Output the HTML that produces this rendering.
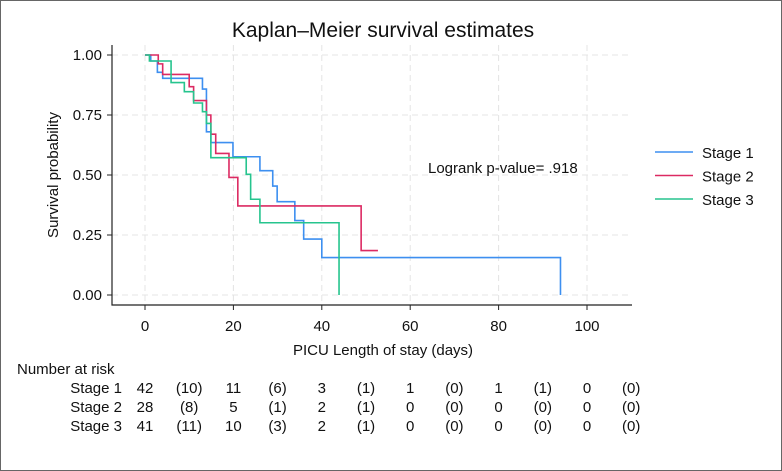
<!DOCTYPE html>
<html><head><meta charset="utf-8"><style>
body{margin:0;background:#fff}
svg{display:block;font-family:"Liberation Sans",Arial,sans-serif}
</style></head><body>
<svg width="782" height="471" viewBox="0 0 782 471">
<rect x="0.5" y="0.5" width="781" height="470" fill="#fff" stroke="#666"/>
<text x="383" y="37" font-size="21" text-anchor="middle" fill="#111">Kaplan–Meier survival estimates</text>
<g id="grid"></g><g id="axes"></g><g id="series"></g><g id="risk"></g>
<text x="383" y="355" font-size="15" text-anchor="middle" fill="#111">PICU Length of stay (days)</text>
<text transform="translate(58,175) rotate(-90)" font-size="15" text-anchor="middle" fill="#111">Survival probability</text>
<text x="428" y="173" font-size="15" fill="#111">Logrank p-value= .918</text>
<text x="17" y="374" font-size="15" fill="#111">Number at risk</text>
</svg>
<script>
const xTicks=[0,20,40,60,80,100];
const yTicks=[0,0.25,0.5,0.75,1];
const seriesNames=["Stage 1","Stage 2","Stage 3"];
const s1Times=[0,1.3,2.8,4,13,13.9,14.9,19.9,26,28.9,29.9,33.9,35.9,40,94];
const s1Surv=[1,0.975,0.928,0.903,0.858,0.68,0.635,0.576,0.518,0.454,0.389,0.31,0.233,0.156,0];
const s2Times=[0,3,4,10,11,13.9,14.9,16,19,21,48.9];
const s2Surv=[1,0.963,0.919,0.868,0.81,0.75,0.67,0.59,0.49,0.371,0.185];
const s2End=52.7;
const s3Times=[0,1,5.9,8.9,11,13,13.9,14.9,22.9,23.9,26,43.9];
const s3Surv=[1,0.975,0.885,0.847,0.8,0.764,0.715,0.572,0.503,0.399,0.301,0];
const riskTimes=[0,10,20,30,40,50,60,70,80,90,100];
const risk1=["42","(10)","11","(6)","3","(1)","1","(0)","1","(1)","0","(0)"];
const risk2=["28","(8)","5","(1)","2","(1)","0","(0)","0","(0)","0","(0)"];
const risk3=["41","(11)","10","(3)","2","(1)","0","(0)","0","(0)","0","(0)"];
const colors=["#3d8ff0","#dc2a62","#26c48e"];
const NS="http://www.w3.org/2000/svg";
const X=d=>145+d*4.42, Y=v=>295-v*240;
function mk(p,tag,a){const e=document.createElementNS(NS,tag);for(const k in a)e.setAttribute(k,a[k]);document.getElementById(p).appendChild(e);return e;}
xTicks.forEach(t=>{
 const g=mk('grid','line',{x1:X(t),x2:X(t),y1:45,y2:305,stroke:'#e4e4e4','stroke-dasharray':'6,4'});
 
 const k=mk('axes','line',{x1:X(t),x2:X(t),y1:305,y2:310,stroke:'#222'});
 
 const l=mk('axes','text',{x:X(t),y:331,'font-size':15,'text-anchor':'middle',fill:'#111'});l.textContent=t;
 
});
yTicks.forEach(t=>{
 const g=mk('grid','line',{x1:112,x2:632,y1:Y(t),y2:Y(t),stroke:'#e4e4e4','stroke-dasharray':'6,4'});
 
 const k=mk('axes','line',{x1:107,x2:112,y1:Y(t),y2:Y(t),stroke:'#222'});
 
 const l=mk('axes','text',{x:102,y:Y(t)+5,'font-size':15,'text-anchor':'end',fill:'#111'});l.textContent=t.toFixed(2);
 
});
const ax=mk('axes','path',{d:'M112,45V305H632',fill:'none',stroke:'#222','stroke-width':1.2});

function step(t,s,end){let d=`M${X(t[0])},${Y(s[0])}`;for(let i=1;i<t.length;i++)d+=`H${X(t[i])}V${Y(s[i])}`;if(end!=null)d+=`H${X(end)}`;return d;}
[[s1Times,s1Surv,null],[s2Times,s2Surv,s2End],[s3Times,s3Surv,null]].forEach((s,i)=>{
 const p=mk('series','path',{d:step(s[0],s[1],s[2]),fill:'none',stroke:colors[i],'stroke-width':1.6});
 
 const ly=152+i*23.5;
 const ll=mk('series','line',{x1:655,x2:693,y1:ly,y2:ly,stroke:colors[i],'stroke-width':1.6});
 
 const lt=mk('series','text',{x:702,y:ly+6,'font-size':15,fill:'#111'});lt.textContent=seriesNames[i];
 
});
[risk1,risk2,risk3].forEach((r,i)=>{
 const y=393+i*19;
 const lab=mk('risk','text',{x:122,y:y,'font-size':15,'text-anchor':'end',fill:'#111'});lab.textContent=seriesNames[i];
 
 riskTimes.forEach((t,j)=>{
  const c=mk('risk','text',{x:X(t),y:y,'font-size':15,'text-anchor':'middle',fill:'#111'});c.textContent=r[j];
  
 });
 const last=mk('risk','text',{x:X(110),y:y,'font-size':15,'text-anchor':'middle',fill:'#111'});last.textContent=r[11];
 
});
</script>
</body></html>
